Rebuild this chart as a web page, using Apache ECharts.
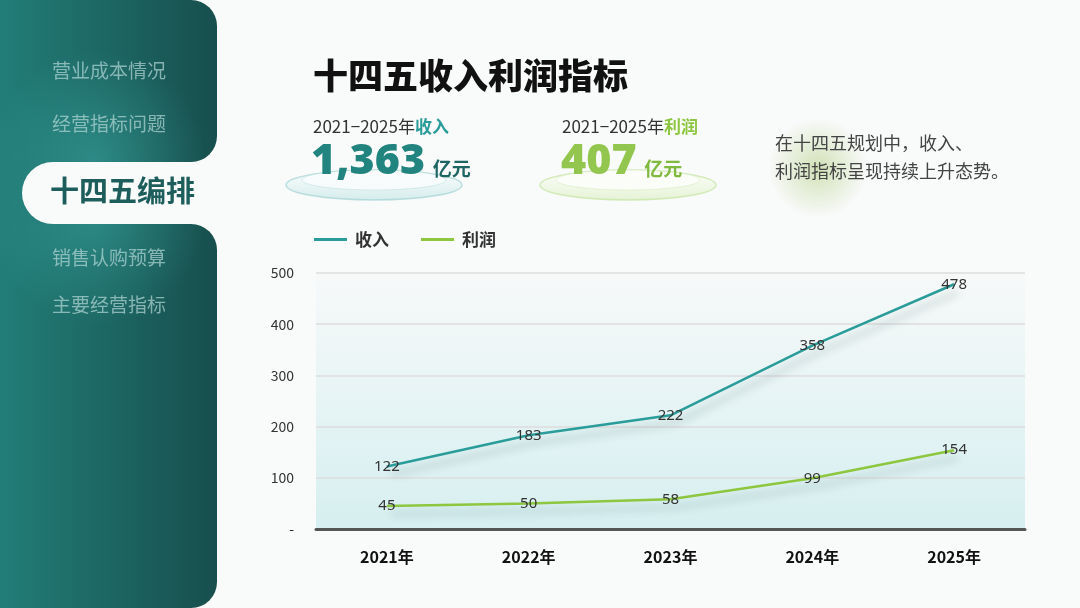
<!DOCTYPE html>
<html>
<head>
<meta charset="utf-8">
<script src="https://cdn.jsdelivr.net/npm/echarts@6/dist/echarts.min.js"></script>
<style>
  html, body { margin: 0; padding: 0; background: #f9fafa; }
  #chart { width: 1080px; height: 608px; }
</style>
</head>
<body>
<div id="chart"></div>
<script>
const years = ["2021年", "2022年", "2023年", "2024年", "2025年"];
const revenue = [122, 183, 222, 358, 478];
const profit = [45, 50, 58, 99, 154];
const menuItems = ["营业成本情况", "经营指标问题", "十四五编排", "销售认购预算", "主要经营指标"];

const FONT = '"Noto Sans CJK SC", "Noto Sans", sans-serif';
const TEAL = "#2a9d9a";
const GREEN = "#8dc63f";
const BG = "#f9fafa";

const chart = echarts.init(document.getElementById("chart"));

const panelFill = {
  type: "linear", x: 0, y: 0, x2: 217, y2: 0, global: true,
  colorStops: [
    { offset: 0, color: "#227d78" },
    { offset: 1, color: "#174f4d" },
  ],
};
const glow = (cx, cy) => ({
  type: "radial", x: cx, y: cy, r: 110, global: true,
  colorStops: [
    { offset: 0, color: "rgba(60,170,165,0.5)" },
    { offset: 1, color: "rgba(60,170,165,0)" },
  ],
});

const menuY = [72, 125, 193, 259, 306];
const menuText = menuItems.map((t, i) => ({
  type: "text",
  left: i === 2 ? 50 : 52,
  top: menuY[i] - (i === 2 ? 17 : 11),
  style: {
    text: t,
    font: i === 2 ? `bold 29px ${FONT}` : `19px ${FONT}`,
    fill: i === 2 ? "#1d5e5c" : "rgba(185,220,218,0.68)",
  },
  z: 10,
}));

const option = {
  backgroundColor: BG,
  textStyle: { fontFamily: FONT },
  legend: {
    left: 309,
    top: 226,
    itemWidth: 33,
    itemHeight: 3,
    itemGap: 32,
    icon: "rect",
    textStyle: { fontSize: 17, fontWeight: "bold", color: "#333", fontFamily: FONT, padding: [0, 0, 0, 3] },
    data: ["收入", "利润"],
  },
  grid: {
    left: 316,
    right: 55,
    top: 273,
    bottom: 79,
    show: true,
    borderWidth: 0,
    backgroundColor: {
      type: "linear", x: 0, y: 0, x2: 0, y2: 1,
      colorStops: [
        { offset: 0, color: "#f7f9f9" },
        { offset: 1, color: "#d6eff0" },
      ],
    },
  },
  xAxis: {
    type: "category",
    data: years,
    axisTick: { show: false },
    axisLine: { lineStyle: { color: "#555", width: 3 } },
    axisLabel: { margin: 20, fontSize: 16, fontWeight: "bold", color: "#111", fontFamily: FONT },
  },
  yAxis: {
    type: "value",
    min: 0,
    max: 500,
    interval: 100,
    axisLabel: {
      margin: 22,
      fontSize: 14,
      color: "#333",
      formatter: (v) => (v === 0 ? "-" : v),
    },
    splitLine: { lineStyle: { color: "#dcdcdc", width: 1.5 } },
  },
  series: [
    {
      name: "收入",
      type: "line",
      data: revenue,
      symbol: "circle",
      symbolSize: 0,
      itemStyle: { color: TEAL },
      lineStyle: {
        color: TEAL, width: 2.5,
        shadowColor: "rgba(0,60,60,0.28)", shadowBlur: 8, shadowOffsetX: 4, shadowOffsetY: 8,
      },
      label: {
        show: true, position: "inside", fontSize: 15, color: "#333",
        fontFamily: '"Liberation Sans Narrow", "Noto Sans", sans-serif',
      },
    },
    {
      name: "利润",
      type: "line",
      data: profit,
      symbol: "circle",
      symbolSize: 0,
      itemStyle: { color: GREEN },
      lineStyle: {
        color: GREEN, width: 2.5,
        shadowColor: "rgba(0,60,60,0.25)", shadowBlur: 8, shadowOffsetX: 4, shadowOffsetY: 8,
      },
      label: {
        show: true, position: "inside", fontSize: 15, color: "#333",
        fontFamily: '"Liberation Sans Narrow", "Noto Sans", sans-serif',
      },
    },
  ],
  graphic: [
    // side panel
    { type: "rect", shape: { x: 0, y: 0, width: 217, height: 162, r: [0, 26, 26, 0] }, style: { fill: panelFill }, z: 1 },
    { type: "rect", shape: { x: 0, y: 0, width: 217, height: 162, r: [0, 26, 26, 0] }, style: { fill: glow(95, 160) }, z: 2 },
    { type: "rect", shape: { x: 0, y: 224, width: 217, height: 384, r: [0, 26, 26, 0] }, style: { fill: panelFill }, z: 1 },
    { type: "rect", shape: { x: 0, y: 224, width: 217, height: 384, r: [0, 26, 26, 0] }, style: { fill: glow(95, 215) }, z: 2 },
    { type: "rect", shape: { x: 0, y: 162, width: 60, height: 62 }, style: { fill: panelFill }, z: 1 },
    { type: "rect", shape: { x: 0, y: 162, width: 60, height: 62 }, style: { fill: glow(95, 190) }, z: 2 },
    { type: "rect", shape: { x: 22, y: 162, width: 240, height: 62, r: [31, 0, 0, 31] }, style: { fill: BG }, z: 3 },
    ...menuText,

    // title
    { type: "text", left: 313, top: 58, style: { text: "十四五收入利润指标", font: `900 35px ${FONT}`, fill: "#111" }, z: 10 },

    // KPI platforms
    { type: "ellipse", shape: { cx: 374, cy: 185, rx: 88, ry: 15 },
      style: { fill: { type: "linear", x: 0, y: 0, x2: 0, y2: 1, colorStops: [{ offset: 0, color: "rgba(255,255,255,0.9)" }, { offset: 1, color: "rgba(205,233,233,0.8)" }] },
        stroke: "rgba(150,205,205,0.6)", lineWidth: 1.5 }, z: 4 },
    { type: "ellipse", shape: { cx: 374, cy: 180, rx: 72, ry: 10 },
      style: { fill: "rgba(250,252,252,0.9)", stroke: "rgba(190,225,225,0.6)", lineWidth: 1 }, z: 4 },
    { type: "ellipse", shape: { cx: 628, cy: 185, rx: 88, ry: 15 },
      style: { fill: { type: "linear", x: 0, y: 0, x2: 0, y2: 1, colorStops: [{ offset: 0, color: "rgba(255,255,255,0.9)" }, { offset: 1, color: "rgba(225,241,205,0.8)" }] },
        stroke: "rgba(195,228,160,0.7)", lineWidth: 1.5 }, z: 4 },
    { type: "ellipse", shape: { cx: 628, cy: 180, rx: 72, ry: 10 },
      style: { fill: "rgba(252,253,250,0.9)", stroke: "rgba(215,237,192,0.6)", lineWidth: 1 }, z: 4 },

    // KPI texts
    { type: "text", left: 313, top: 118,
      style: { text: "{a|2021−2025年}{b|收入}", rich: { a: { fontSize: 17, fill: "#333", fontFamily: FONT }, b: { fontSize: 17, fill: TEAL, fontWeight: "bold", fontFamily: FONT } } }, z: 10 },
    { type: "text", left: 311, top: 140,
      style: { text: "{n|1,363}{s|  }{u|亿元}", rich: {
        n: { fontSize: 43, fontWeight: 800, fill: "#21847f", fontFamily: '"Open Sans", sans-serif' },
        s: { fontSize: 14 },
        u: { fontSize: 19, fontWeight: "bold", fill: "#1d6663", fontFamily: FONT, padding: [14, 0, 0, 0] } } }, z: 10 },
    { type: "text", left: 562, top: 118,
      style: { text: "{a|2021−2025年}{b|利润}", rich: { a: { fontSize: 17, fill: "#333", fontFamily: FONT }, b: { fontSize: 17, fill: GREEN, fontWeight: "bold", fontFamily: FONT } } }, z: 10 },
    { type: "text", left: 561, top: 140,
      style: { text: "{n|407}{s|  }{u|亿元}", rich: {
        n: { fontSize: 43, fontWeight: 800, fill: "#92c64e", fontFamily: '"Open Sans", sans-serif' },
        s: { fontSize: 14 },
        u: { fontSize: 19, fontWeight: "bold", fill: "#80b93f", fontFamily: FONT, padding: [14, 0, 0, 0] } } }, z: 10 },

    // note with glow
    { type: "circle", shape: { cx: 818, cy: 168, r: 50 },
      style: { fill: { type: "radial", x: 0.5, y: 0.5, r: 0.5, colorStops: [{ offset: 0, color: "rgba(160,195,100,0.45)" }, { offset: 1, color: "rgba(160,195,100,0)" }] } }, z: 4 },
    { type: "text", left: 775, top: 129,
      style: { text: "在十四五规划中，收入、\n利润指标呈现持续上升态势。", font: `18px ${FONT}`, fill: "#444", lineHeight: 28 }, z: 10 },
  ],
};

chart.setOption(option);
</script>
</body>
</html>
